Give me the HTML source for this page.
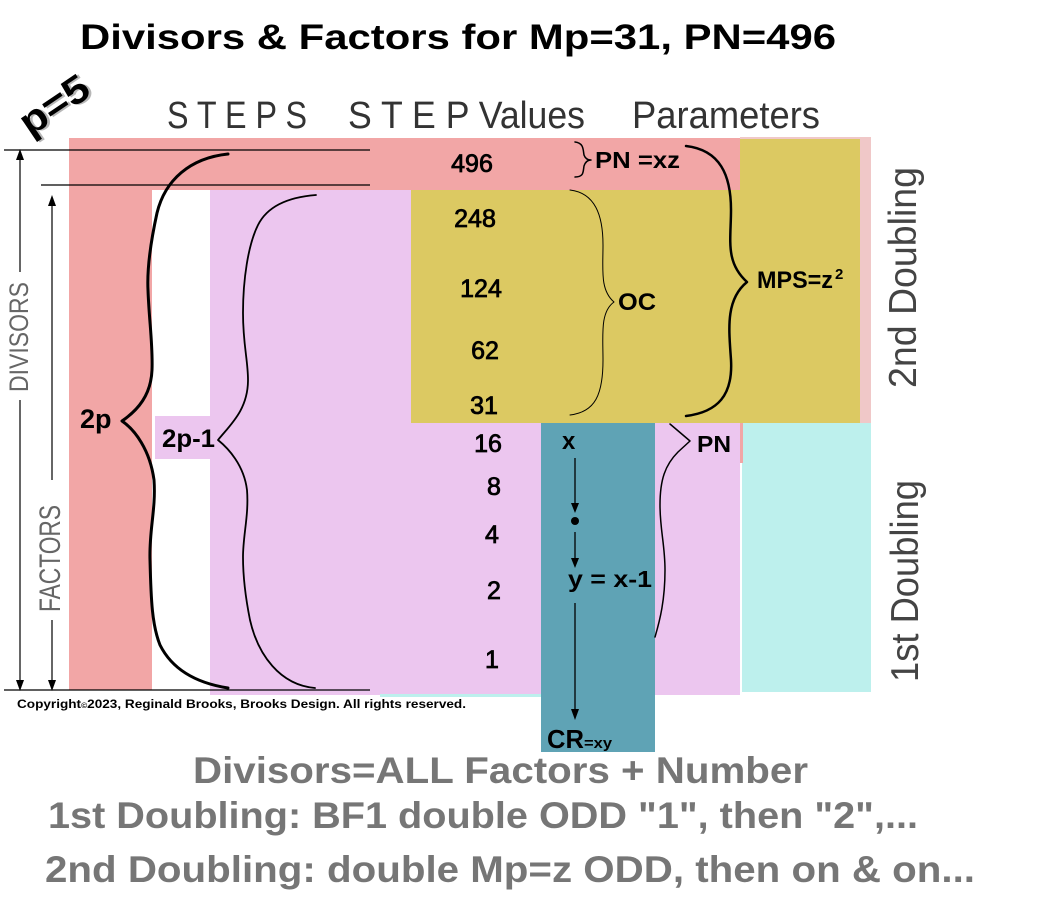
<!DOCTYPE html>
<html><head><meta charset="utf-8"><style>html,body{margin:0;padding:0;background:#fff}svg{display:block}</style></head>
<body>
<svg width="1050" height="898" viewBox="0 0 1050 898" xmlns="http://www.w3.org/2000/svg" font-family="'Liberation Sans', sans-serif">
<rect width="1050" height="898" fill="#fff"/>
<text x="80" y="49" font-size="35" font-weight="bold" textLength="756" lengthAdjust="spacingAndGlyphs" fill="#000">Divisors &amp; Factors for Mp=31, PN=496</text>
<g transform="translate(30,137) rotate(-34)">
<text x="2" y="2" font-size="39" font-weight="bold" fill="#888" opacity="0.6" textLength="76" lengthAdjust="spacingAndGlyphs">p=5</text>
<text x="0" y="0" font-size="39" font-weight="bold" fill="#000" textLength="76" lengthAdjust="spacingAndGlyphs">p=5</text>
</g>
<text x="167" y="128" font-size="38" fill="#333" textLength="140" lengthAdjust="spacingAndGlyphs">S T E P S</text>
<text x="348" y="128" font-size="38" fill="#333" textLength="237" lengthAdjust="spacingAndGlyphs">S T E P  Values</text>
<text x="632" y="128" font-size="38" fill="#333" textLength="188" lengthAdjust="spacingAndGlyphs">Parameters</text>
<rect x="740" y="137" width="131" height="286" fill="#f0c8c8"/>
<rect x="411" y="139" width="449" height="284" fill="#dcc962"/>
<rect x="69" y="138" width="671" height="52" fill="#f2a6a6"/>
<rect x="69" y="138" width="83" height="552" fill="#f2a6a6"/>
<rect x="210" y="190" width="201" height="505" fill="#ecc6ef"/>
<rect x="411" y="423" width="329" height="272" fill="#ecc6ef"/>
<rect x="155" y="416" width="55" height="43" fill="#ecc6ef"/>
<rect x="742" y="423" width="129" height="269" fill="#bdf0ed"/>
<rect x="740" y="423" width="3" height="40" fill="#f2a6a6"/>
<rect x="380" y="694" width="161" height="3" fill="#bdf0ed"/>
<rect x="541" y="423" width="114" height="329" fill="#5fa3b5"/>
<g stroke="#000" stroke-width="1.2" fill="none">
<path d="M4,150 L370,150"/>
<path d="M41,185 L370,185"/>
<path d="M4,690 L370,690"/>
<path d="M20,158 L20,272"/>
<path d="M20,400 L20,682"/>
<path d="M52,203 L52,480"/>
<path d="M52,620 L52,682"/>
</g>
<g fill="#000">
<path d="M20,149 L16,160 L24,160 Z"/>
<path d="M20,691 L16,680 L24,680 Z"/>
<path d="M52,195 L48,206 L56,206 Z"/>
<path d="M52,691 L48,680 L56,680 Z"/>
</g>
<text transform="translate(28,392) rotate(-90)" font-size="27" fill="#666" textLength="110" lengthAdjust="spacingAndGlyphs">DIVISORS</text>
<text transform="translate(60,612) rotate(-90)" font-size="30" fill="#666" textLength="107" lengthAdjust="spacingAndGlyphs">FACTORS</text>
<g fill="none" stroke="#000" stroke-linecap="round" stroke-linejoin="round">
<path stroke-width="3" d="M228,154 C190,158 165,180 157,213 C150,245 147,270 148,290 C149,320 153,345 152,370 C151,395 138,410 122,421 C135,430 150,450 154,480 C156,510 149,530 150,560 C151,600 152,625 160,645 C170,665 190,682 228,688"/>
<path stroke-width="1.8" d="M316,195 C290,197 268,205 258,225 C248,245 243,280 243,313 C243,345 248,360 248,380 C248,410 230,425 218,440 C228,448 244,465 247,490 C249,515 243,535 243,557 C243,580 246,600 250,620 C258,655 280,685 315,688"/>
<path stroke-width="1" d="M570,190 C595,193 603,215 603,245 C603,270 600,290 614,302 C600,312 603,335 603,360 C603,395 595,412 570,415"/>
<path stroke-width="2.5" d="M686,146 C720,150 731,175 731,210 C731,240 725,262 747,282 C725,300 729,330 731,360 C733,395 718,412 686,416"/>
<path stroke-width="1.5" d="M575,142 C584,143 583,150 584,155 C585,158 587,160 591,160 C587,160 585,163 584,166 C583,172 584,177 575,177"/>
<path stroke-width="1.5" d="M670,424 L690,441 L678,452 C665,465 660,480 660,505 C660,530 665,545 665,570 C665,600 660,620 655,637"/>
</g>
<g font-size="25" fill="#000" stroke="#000" stroke-width="0.8" text-anchor="middle">
<text x="472" y="172">496</text>
<text x="475" y="227">248</text>
<text x="481" y="297">124</text>
<text x="485" y="359">62</text>
<text x="484" y="414">31</text>
<text x="488" y="452">16</text>
<text x="494" y="495">8</text>
<text x="492" y="543">4</text>
<text x="494" y="599">2</text>
<text x="492" y="668">1</text>
</g>
<g font-weight="bold" fill="#000">
<text x="80" y="428" font-size="27">2p</text>
<text x="162" y="447" font-size="25" textLength="53" lengthAdjust="spacingAndGlyphs">2p-1</text>
<text x="618" y="310" font-size="24" textLength="38" lengthAdjust="spacingAndGlyphs">OC</text>
<text x="757" y="288" font-size="24" textLength="76" lengthAdjust="spacingAndGlyphs">MPS=z</text>
<text x="835" y="279" font-size="15">2</text>
<text x="595" y="168" font-size="23" textLength="85" lengthAdjust="spacingAndGlyphs">PN =xz</text>
<text x="697" y="452" font-size="23" textLength="34" lengthAdjust="spacingAndGlyphs">PN</text>
<text x="562" y="449" font-size="24">x</text>
<text x="568" y="587" font-size="23" textLength="84" lengthAdjust="spacingAndGlyphs">y = x-1</text>
<text x="547" y="748" font-size="26" textLength="37" lengthAdjust="spacingAndGlyphs">CR</text>
<text x="584" y="748" font-size="15" textLength="28" lengthAdjust="spacingAndGlyphs">=xy</text>
</g>
<g stroke="#000" stroke-width="1.3">
<path d="M575,458 L575,505"/>
<path d="M575,532 L575,560"/>
<path d="M575,603 L575,711"/>
</g>
<g fill="#000">
<path d="M575,513 L571,503 L579,503 Z"/>
<circle cx="575" cy="521" r="4"/>
<path d="M575,568 L571,558 L579,558 Z"/>
<path d="M575,720 L571,709 L579,709 Z"/>
</g>
<text transform="translate(916,388) rotate(-90)" font-size="39" fill="#444" textLength="221" lengthAdjust="spacingAndGlyphs">2nd Doubling</text>
<text transform="translate(918,682) rotate(-90)" font-size="39" fill="#444" textLength="202" lengthAdjust="spacingAndGlyphs">1st Doubling</text>
<text x="17" y="708" font-size="11.5" font-weight="bold" fill="#000" textLength="449" lengthAdjust="spacingAndGlyphs">Copyright<tspan font-size="7">©</tspan>2023, Reginald Brooks, Brooks Design. All rights reserved.</text>
<g font-weight="bold" fill="#767676" font-size="37">
<text x="193" y="783" textLength="615" lengthAdjust="spacingAndGlyphs">Divisors=ALL Factors + Number</text>
<text x="48" y="828" textLength="870" lengthAdjust="spacingAndGlyphs">1st Doubling: BF1 double ODD "1", then "2",...</text>
<text x="45" y="882" textLength="930" lengthAdjust="spacingAndGlyphs">2nd Doubling: double Mp=z ODD, then on &amp; on...</text>
</g>
</svg>
</body></html>
